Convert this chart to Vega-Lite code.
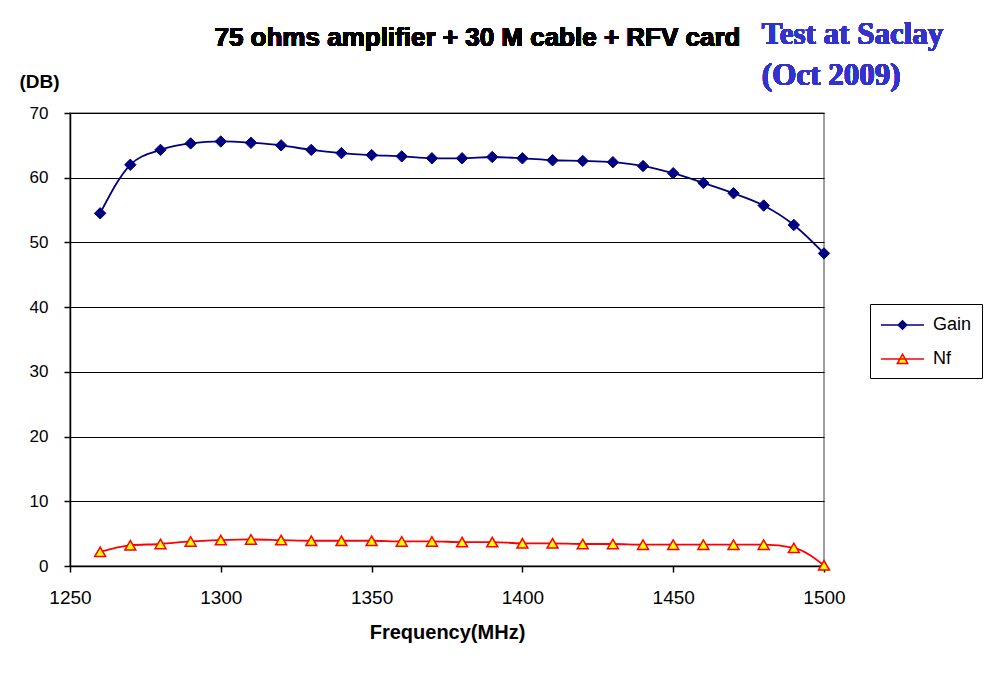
{
  "$schema": "https://vega.github.io/schema/vega-lite/v6.json",
  "width": 754,
  "height": 453,
  "autosize": {"type": "none"},
  "padding": {"left": 70, "top": 113, "right": 166, "bottom": 111},
  "background": "white",
  "config": {
    "font": "Liberation Sans",
    "view": {"stroke": "#808080", "strokeWidth": 1.5},
    "axis": {
      "labelFont": "Liberation Sans",
      "labelColor": "black",
      "titleFont": "Liberation Sans",
      "titleFontWeight": "bold",
      "titleColor": "black",
      "domainColor": "black",
      "domainWidth": 1.5,
      "tickColor": "black",
      "tickWidth": 1.5,
      "tickSize": 6
    }
  },
  "data": {
    "values": [
      {"f": 1260, "series": "Gain", "db": 54.5},
      {"f": 1270, "series": "Gain", "db": 62.0},
      {"f": 1280, "series": "Gain", "db": 64.3},
      {"f": 1290, "series": "Gain", "db": 65.3},
      {"f": 1300, "series": "Gain", "db": 65.6},
      {"f": 1310, "series": "Gain", "db": 65.4},
      {"f": 1320, "series": "Gain", "db": 65.0},
      {"f": 1330, "series": "Gain", "db": 64.3},
      {"f": 1340, "series": "Gain", "db": 63.8},
      {"f": 1350, "series": "Gain", "db": 63.5},
      {"f": 1360, "series": "Gain", "db": 63.3},
      {"f": 1370, "series": "Gain", "db": 63.0},
      {"f": 1380, "series": "Gain", "db": 63.0},
      {"f": 1390, "series": "Gain", "db": 63.2},
      {"f": 1400, "series": "Gain", "db": 63.0},
      {"f": 1410, "series": "Gain", "db": 62.7},
      {"f": 1420, "series": "Gain", "db": 62.6},
      {"f": 1430, "series": "Gain", "db": 62.4},
      {"f": 1440, "series": "Gain", "db": 61.8},
      {"f": 1450, "series": "Gain", "db": 60.7},
      {"f": 1460, "series": "Gain", "db": 59.2},
      {"f": 1470, "series": "Gain", "db": 57.6},
      {"f": 1480, "series": "Gain", "db": 55.7},
      {"f": 1490, "series": "Gain", "db": 52.7},
      {"f": 1500, "series": "Gain", "db": 48.3},
      {"f": 1260, "series": "Nf", "db": 2.2},
      {"f": 1270, "series": "Nf", "db": 3.2},
      {"f": 1280, "series": "Nf", "db": 3.4},
      {"f": 1290, "series": "Nf", "db": 3.8},
      {"f": 1300, "series": "Nf", "db": 4.0},
      {"f": 1310, "series": "Nf", "db": 4.1},
      {"f": 1320, "series": "Nf", "db": 4.0},
      {"f": 1330, "series": "Nf", "db": 3.9},
      {"f": 1340, "series": "Nf", "db": 3.9},
      {"f": 1350, "series": "Nf", "db": 3.9},
      {"f": 1360, "series": "Nf", "db": 3.8},
      {"f": 1370, "series": "Nf", "db": 3.8},
      {"f": 1380, "series": "Nf", "db": 3.7},
      {"f": 1390, "series": "Nf", "db": 3.7},
      {"f": 1400, "series": "Nf", "db": 3.5},
      {"f": 1410, "series": "Nf", "db": 3.5},
      {"f": 1420, "series": "Nf", "db": 3.4},
      {"f": 1430, "series": "Nf", "db": 3.4},
      {"f": 1440, "series": "Nf", "db": 3.3},
      {"f": 1450, "series": "Nf", "db": 3.3},
      {"f": 1460, "series": "Nf", "db": 3.3},
      {"f": 1470, "series": "Nf", "db": 3.3},
      {"f": 1480, "series": "Nf", "db": 3.3},
      {"f": 1490, "series": "Nf", "db": 2.8},
      {"f": 1500, "series": "Nf", "db": 0.1}
    ]
  },
  "encoding": {
    "x": {
      "field": "f",
      "type": "quantitative",
      "title": "Frequency(MHz)",
      "scale": {"domain": [1250, 1500], "nice": false, "zero": false},
      "axis": {
        "values": [1250, 1300, 1350, 1400, 1450, 1500],
        "format": "d",
        "grid": false,
        "labelFlush": false,
        "labelFontSize": 19,
        "labelPadding": 16,
        "titleFontSize": 20,
        "titlePadding": 15
      }
    },
    "y": {
      "field": "db",
      "type": "quantitative",
      "title": "(DB)",
      "scale": {"domain": [0, 70], "nice": false},
      "axis": {
        "values": [0, 10, 20, 30, 40, 50, 60, 70],
        "grid": true,
        "gridColor": "black",
        "gridWidth": 1.2,
        "gridOpacity": 1,
        "labelFontSize": 17,
        "labelPadding": 16,
        "titleFontSize": 19,
        "titleAngle": 0,
        "titleAlign": "center",
        "titleBaseline": "alphabetic",
        "titleX": -31,
        "titleY": -26
      }
    }
  },
  "layer": [
    {
      "mark": {"type": "line", "interpolate": "monotone", "strokeWidth": 1.8},
      "encoding": {
        "color": {
          "field": "series",
          "type": "nominal",
          "scale": {"domain": ["Gain", "Nf"], "range": ["#000080", "#FF0000"]},
          "legend": {
            "title": null,
            "orient": "none",
            "legendX": 800,
            "legendY": 191,
            "padding": 10,
            "strokeColor": "black",
            "fillColor": "white",
            "symbolSize": 400,
            "symbolStrokeWidth": 1.5,
            "labelFont": "Liberation Sans",
            "labelFontSize": 18,
            "labelColor": "black",
            "labelOffset": 31,
            "rowPadding": 14,
            "encode": {
              "symbols": {
                "update": {
                  "shape": {"signal": "datum.value === 'Gain' ? 'M-1,0H3.3M1.15,-0.43L1.58,0L1.15,0.43L0.72,0Z' : 'M-1,0H3.3M1.15,-0.48L1.67,0.46L0.63,0.46Z'"},
                  "fill": {"signal": "datum.value === 'Gain' ? '#000080' : '#FFFF00'"},
                  "stroke": {"signal": "datum.value === 'Gain' ? '#000080' : '#FF0000'"},
                  "fillOpacity": {"value": 1},
                  "strokeWidth": {"value": 1.5}
                }
              }
            }
          }
        }
      }
    },
    {
      "transform": [{"filter": "datum.series === 'Gain'"}],
      "mark": {"type": "point", "shape": "diamond", "filled": true, "opacity": 1, "fill": "#000080", "stroke": "#000080", "strokeWidth": 1, "size": 130}
    },
    {
      "transform": [{"filter": "datum.series === 'Nf'"}],
      "mark": {"type": "point", "shape": "triangle-up", "filled": true, "opacity": 1, "fill": "#FFFF00", "stroke": "#FF0000", "strokeWidth": 1.5, "size": 120}
    },
    {
      "mark": {
        "type": "text",
        "text": "75 ohms amplifier + 30 M cable + RFV card",
        "font": "Liberation Sans",
        "fontSize": 26,
        "fontWeight": "bold",
        "color": "black",
        "align": "center",
        "baseline": "alphabetic"
      },
      "encoding": {
        "x": {"datum": 1385.1},
        "y": {"datum": 80.35}
      }
    },
    {
      "mark": {
        "type": "text",
        "text": ["Test at Saclay", "(Oct 2009)"],
        "font": "Liberation Serif",
        "fontSize": 31,
        "fontWeight": "bold",
        "color": "#3333CC",
        "align": "left",
        "baseline": "alphabetic",
        "lineHeight": 41
      },
      "encoding": {
        "x": {"datum": 1479.4},
        "y": {"datum": 80.7}
      }
    }
  ]
}
